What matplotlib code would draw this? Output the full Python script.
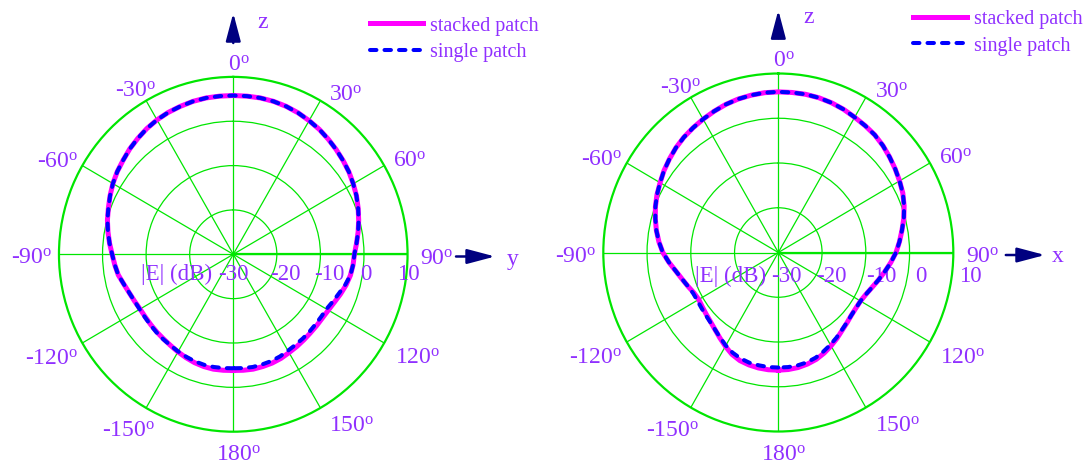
import numpy as np
import matplotlib
matplotlib.use("Agg")
import matplotlib.pyplot as plt

# ---------------------------------------------------------------- data
# pattern cuts, |E| in dB; angle measured clockwise from +z in 5-degree steps
angles_deg = list(range(-180, 180, 5))

# y-z plane
yz_stacked = [-3.8, -3.75, -3.7, -3.8, -4.0, -4.3, -4.6, -4.9, -5.1, -5.2,
              -5.3, -5.35, -5.3, -5.0, -4.6, -4.0, -3.2, -2.7, -2.2, -1.5,
              -0.8, -0.1, 0.5, 1.2, 1.9, 2.5, 3.0, 3.6, 4.1, 4.6, 5.0, 5.3,
              5.5, 5.7, 5.8, 5.8, 5.8, 5.8, 5.8, 5.7, 5.5, 5.2, 4.8, 4.4,
              3.9, 3.4, 2.9, 2.4, 1.8, 1.2, 0.5, -0.2, -0.9, -1.6, -2.2,
              -2.4, -2.7, -3.2, -3.8, -4.4, -4.8, -5.0, -5.0, -4.95, -4.8,
              -4.6, -4.4, -4.1, -3.9, -3.8, -3.7, -3.75]
yz_single = [-4.3, -4.25, -4.2, -4.2, -4.3, -4.5, -4.7, -4.9, -5.0, -5.1,
             -5.2, -5.25, -5.2, -5.0, -4.6, -4.0, -3.2, -2.7, -2.2, -1.5,
             -0.8, -0.1, 0.5, 1.2, 1.9, 2.5, 3.0, 3.6, 4.1, 4.6, 5.0, 5.3,
             5.5, 5.7, 5.8, 5.8, 5.8, 5.8, 5.8, 5.7, 5.5, 5.2, 4.8, 4.4,
             3.9, 3.4, 2.9, 2.4, 1.8, 1.2, 0.5, -0.2, -0.9, -1.6, -2.2,
             -2.4, -2.7, -3.4, -4.2, -4.8, -5.3, -5.4, -5.4, -5.3, -5.2,
             -5.1, -4.9, -4.6, -4.4, -4.3, -4.2, -4.25]

# x-z plane
xz_stacked = [-3.7, -3.7, -3.8, -4.0, -4.3, -4.9, -5.8, -6.7, -7.5, -8.1,
              -8.5, -8.8, -9.0, -8.7, -8.0, -7.2, -6.2, -4.9, -3.6, -2.6,
              -1.7, -0.9, -0.1, 0.6, 1.2, 1.9, 2.5, 3.1, 3.6, 4.0, 4.4, 4.8,
              5.2, 5.5, 5.7, 5.85, 5.9, 5.9, 5.9, 5.8, 5.6, 5.3, 4.9, 4.6,
              4.3, 3.8, 3.2, 2.6, 2.0, 1.4, 0.6, -0.3, -1.3, -2.2, -3.1,
              -4.2, -5.3, -6.3, -7.2, -7.9, -8.3, -8.35, -8.2, -7.8, -7.3,
              -6.6, -5.9, -5.2, -4.6, -4.2, -3.9, -3.75]
xz_single = [-4.3, -4.3, -4.4, -4.5, -4.8, -5.3, -6.0, -6.8, -7.5, -8.0,
             -8.3, -8.5, -8.6, -8.5, -8.0, -7.2, -6.2, -4.9, -3.6, -2.6,
             -1.7, -0.9, -0.1, 0.6, 1.2, 1.9, 2.5, 3.1, 3.6, 4.0, 4.4, 4.8,
             5.2, 5.5, 5.7, 5.85, 5.9, 5.9, 5.9, 5.8, 5.6, 5.3, 4.9, 4.6,
             4.3, 3.8, 3.2, 2.6, 2.0, 1.4, 0.6, -0.3, -1.3, -2.2, -3.1,
             -4.2, -5.3, -6.3, -7.2, -7.9, -8.3, -8.35, -8.2, -7.85, -7.4,
             -6.8, -6.2, -5.6, -5.0, -4.6, -4.4, -4.3]

r_ticks = [-30, -20, -10, 0, 10]
theta_ticks = [0, 30, 60, 90, 120, 150, 180, -150, -120, -90, -60, -30]
series_names = ["stacked patch", "single patch"]

# ---------------------------------------------------------------- style
plt.rcParams["font.family"] = ["Liberation Serif", "DejaVu Serif"]
plt.rcParams["mathtext.fontset"] = "custom"
plt.rcParams["mathtext.rm"] = "Liberation Serif"
plt.rcParams["mathtext.it"] = "Liberation Serif:italic"

TXT = "#9030ff"
GRID = "#00e600"
ARROW = "#000080"
PINK = "#ff00ff"
BLUE = "#0000ff"
R_MIN, R_MAX = r_ticks[0], r_ticks[-1]

# where each angle label sits: (direction in degrees, distance / outer radius)
label_anchor = {0: (1.6, 1.087), 30: (35.2, 1.123), 60: (61.7, 1.151),
                90: (90.4, 1.169), 120: (118.3, 1.199), 150: (144.4, 1.169),
                180: (178.3, 1.113), -150: (-148.4, 1.151),
                -120: (-118.8, 1.191), -90: (-90.2, 1.159),
                -60: (-62.0, 1.143), -30: (-30.7, 1.093)}

fig = plt.figure(figsize=(10.9, 4.7), dpi=100)


def closed(a, v):
    a = np.deg2rad(np.asarray(a, dtype=float))
    v = np.asarray(v, dtype=float)
    return np.append(a, a[0] + 2 * np.pi), np.append(v, v[0])


def polar_panel(rect, stacked, single, horiz_name, rlab_dx, rlab_drop,
                legend_xy, arrow_geo):
    ax = fig.add_axes(rect, projection="polar")
    ax.set_aspect("auto")
    ax.set_theta_zero_location("N")
    ax.set_theta_direction(-1)
    ax.set_ylim(R_MIN, R_MAX)
    ax.set_thetagrids(np.arange(0, 360, 30), labels=[])
    ax.set_rgrids(r_ticks[1:-1], labels=[])
    ax.grid(True, color=GRID, lw=0.9)
    ax.spines["polar"].set_color(GRID)
    ax.spines["polar"].set_linewidth(1.6)
    ax.tick_params(length=0)
    # the horizontal half-axis is drawn heavier
    ax.plot([np.pi / 2, np.pi / 2], [R_MIN, R_MAX], color=GRID, lw=1.6,
            zorder=1)

    t, v = closed(angles_deg, stacked)
    ax.plot(t, v, color=PINK, lw=3.6, solid_joinstyle="round",
            label=series_names[0], zorder=3)
    t, v = closed(angles_deg, single)
    ax.plot(t, v, color=BLUE, lw=2.9, linestyle=(0, (1.6, 2.0)),
            dash_capstyle="round", dash_joinstyle="round",
            label=series_names[1], zorder=4)

    # angle labels outside the rim
    span = R_MAX - R_MIN
    for a in theta_ticks:
        d, f = label_anchor[a]
        ax.annotate(f"{a}$^{{\\mathrm{{o}}}}$",
                    xy=(np.deg2rad(d), R_MIN + span * f),
                    xytext=(0, -2.5), textcoords="offset points",
                    annotation_clip=False,
                    ha="center", va="center", color=TXT, fontsize=17)

    # radial labels along the horizontal axis
    for rv, dx in zip(r_ticks, rlab_dx):
        ax.annotate(f"{rv}", xy=(np.pi / 2, rv), xytext=(dx * 0.72,
                    -rlab_drop * 0.72), textcoords="offset points",
                    annotation_clip=False,
                    ha="center", va="baseline", color=TXT, fontsize=16.5)
    ax.annotate("|E| (dB)", xy=(np.pi / 2, R_MIN),
                xytext=((rlab_dx[0] - 21) * 0.72, -rlab_drop * 0.72),
                textcoords="offset points", ha="right", va="baseline",
                annotation_clip=False, color=TXT, fontsize=16.5)

    # coordinate arrows
    zt, zb, zlab, ht, hb, hy, hlab = arrow_geo
    ap = dict(arrowstyle="-|>,head_length=1.7,head_width=0.45",
              color=ARROW, lw=1.8, mutation_scale=10, shrinkA=0, shrinkB=0)
    ax.annotate("", xy=(0.5, zt), xytext=(0.5, zb),
                xycoords="axes fraction", arrowprops=ap)
    ax.annotate("", xy=(ht, hy), xytext=(hb, hy),
                xycoords="axes fraction", arrowprops=ap)
    ax.text(zlab[0], zlab[1], "z", transform=ax.transAxes, ha="center",
            va="center", color=TXT, fontsize=17)
    ax.text(hlab[0], hlab[1], horiz_name, transform=ax.transAxes,
            ha="center", va="center", color=TXT, fontsize=17)

    ax.legend(loc="upper left", bbox_to_anchor=legend_xy,
              bbox_transform=fig.transFigure, frameon=False,
              fontsize=14.5, labelcolor=TXT, handlelength=2.65,
              handletextpad=0.35, labelspacing=0.37, borderpad=0,
              borderaxespad=0)
    return ax


polar_panel([0.0541, 0.0815, 0.3198, 0.7549], yz_stacked, yz_single, "y",
            rlab_dx=[0, 8.4, 8.8, 2.3, 1.2], rlab_drop=25.7,
            legend_xy=(0.339, 0.965),
            arrow_geo=(1.180, 1.0955, (0.585, 1.154), 1.251, 1.139, 0.4938,
                       (1.302, 0.484)))
polar_panel([0.5535, 0.0819, 0.3211, 0.7617], xz_stacked, xz_single, "x",
            rlab_dx=[8.4, 9.65, 15.9, 11.5, 16.7], rlab_drop=29.2,
            legend_xy=(0.838, 0.979),
            arrow_geo=(1.177, 1.099, (0.585, 1.157), 1.262, 1.150, 0.493,
                       (1.298, 0.490)))

fig.savefig("out.png", dpi=100)
